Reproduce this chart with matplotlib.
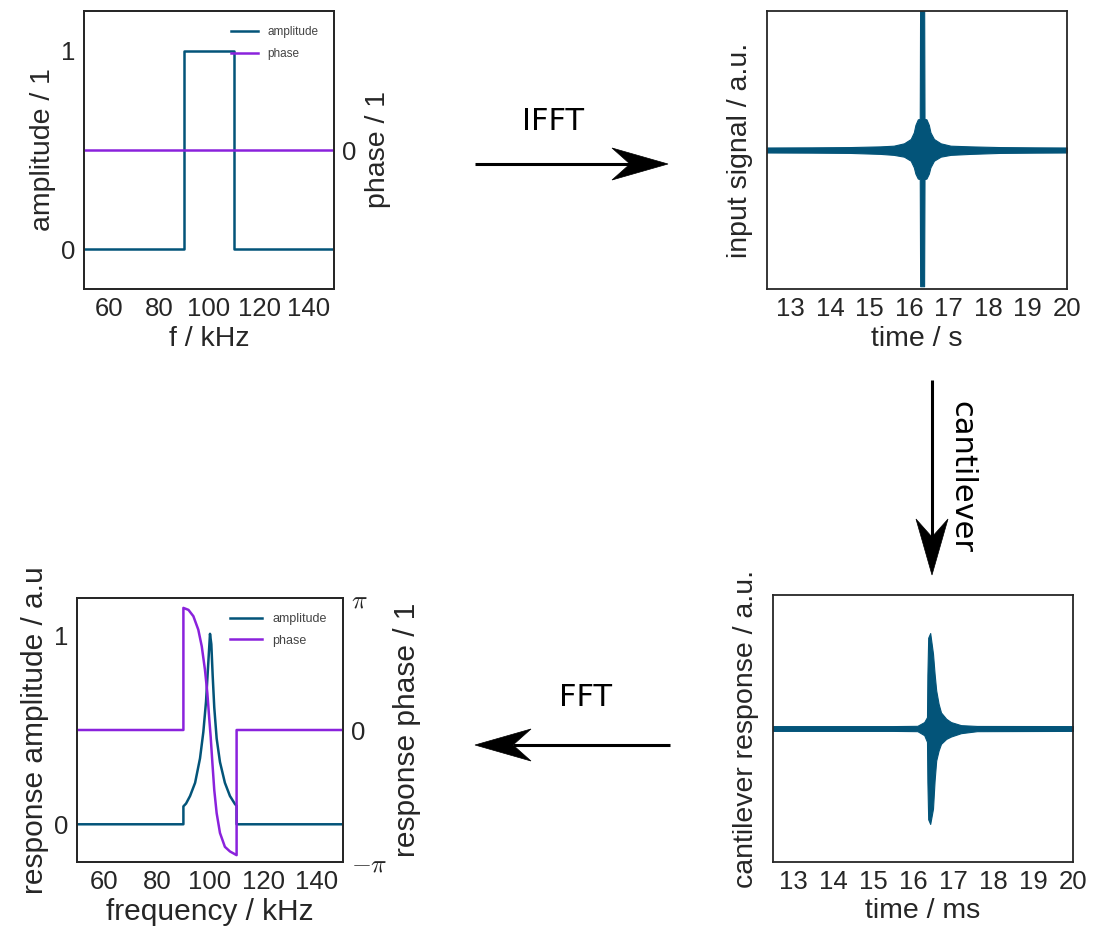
import matplotlib
matplotlib.use("Agg")
import matplotlib.pyplot as plt
from matplotlib import font_manager
from matplotlib.patches import Polygon
import numpy as np

plt.rcParams["font.family"] = ["Liberation Sans", "DejaVu Sans"]
plt.rcParams["mathtext.fontset"] = "cm"
plt.rcParams["text.color"] = "#262626"
plt.rcParams["axes.labelcolor"] = "#262626"
plt.rcParams["xtick.color"] = "#262626"
plt.rcParams["ytick.color"] = "#262626"

# tick labels in the reference look tall and narrow
try:
    font_manager.findfont("Liberation Sans Narrow", fallback_to_default=False)
    TICK_FAMILY, TICK_SIZE = "Liberation Sans Narrow", 20
except Exception:
    TICK_FAMILY, TICK_SIZE = "Liberation Sans", 18.5

BLUE = "#035479"
PURPLE = "#8a22dc"
EDGE = "#262626"

# --- top left: input spectrum ---
f_in = [50, 90, 90, 110, 110, 150]
amp_in = [0, 0, 1, 1, 0, 0]
f_in_phase = [50, 150]
phase_in = [0, 0]

# --- top right: input signal envelope (time in s) ---
t_in = [12.4, 13.5, 14.5, 15.27, 15.61, 15.87, 16.04, 16.12, 16.16, 16.22, 16.27, 16.28,
        16.38, 16.39, 16.44, 16.5, 16.54, 16.63, 16.8, 17.05, 17.56, 18.3, 19.2, 20.0]
up_in = [0.018, 0.019, 0.021, 0.026, 0.031, 0.048, 0.079, 0.127, 0.18, 0.22, 0.225, 1.15,
         1.15, 0.225, 0.22, 0.18, 0.127, 0.079, 0.048, 0.031, 0.026, 0.021, 0.019, 0.018]
lo_in = [-0.018, -0.019, -0.021, -0.028, -0.035, -0.048, -0.077, -0.125, -0.17, -0.205, -0.21, -0.98,
         -0.98, -0.21, -0.205, -0.17, -0.125, -0.077, -0.048, -0.035, -0.028, -0.021, -0.019, -0.018]

# --- bottom right: cantilever response envelope (time in ms) ---
t_resp = [12.5, 14.0, 15.5, 16.11, 16.28, 16.35, 16.36, 16.38, 16.43, 16.5, 16.54, 16.58,
          16.64, 16.7, 16.83, 16.95, 17.2, 17.6, 20.0]
up_resp = [0.018, 0.018, 0.018, 0.02, 0.048, 0.085, 0.4, 0.68, 0.715, 0.56, 0.41, 0.285,
           0.185, 0.12, 0.073, 0.048, 0.025, 0.019, 0.018]
lo_resp = [-0.018, -0.018, -0.018, -0.02, -0.05, -0.1, -0.4, -0.68, -0.715, -0.6, -0.39, -0.24,
           -0.165, -0.115, -0.078, -0.06, -0.035, -0.02, -0.018]

# --- bottom left: response spectrum ---
f_out = [50, 90, 90, 91, 92.5, 94.4, 96.25, 97.5, 98.5, 99.25, 100.0, 100.5, 101.0,
         101.6, 102.5, 103.75, 105.6, 107.5, 109.4, 110, 110, 150]
amp_out = [0, 0, 0.095, 0.11, 0.15, 0.22, 0.35, 0.49, 0.65, 0.83, 1.01, 0.955, 0.79,
           0.62, 0.455, 0.33, 0.22, 0.15, 0.107, 0.098, 0, 0]
f_out_phase = [50, 90, 90, 91.9, 93.75, 95.6, 96.9, 98.1, 99.0, 99.75, 100.25, 100.9,
               101.6, 102.5, 103.75, 105.6, 107.5, 110, 110, 150]
phase_out_pi = [0, 0, 0.925, 0.91, 0.862, 0.76, 0.634, 0.457, 0.28, 0.077, -0.05, -0.25,
                -0.454, -0.63, -0.78, -0.885, -0.92, -0.948, 0, 0]

W, H = 1097, 944
fig = plt.figure(figsize=(W / 100, H / 100), dpi=100)


def px_rect(l, t, r, b):
    return [l / W, 1 - b / H, (r - l) / W, (b - t) / H]


def style(ax):
    for s in ax.spines.values():
        s.set_color(EDGE)
        s.set_linewidth(1.3)
    ax.tick_params(length=0, pad=6)
    for lab in ax.get_xticklabels() + ax.get_yticklabels():
        lab.set_family(TICK_FAMILY)
        lab.set_fontsize(TICK_SIZE)


# top left
ax1 = fig.add_axes(px_rect(84, 11, 334, 289))
ax1.plot(f_in, amp_in, color=BLUE, lw=1.8, label="amplitude")
ax1.set_xlim(50, 150)
ax1.set_ylim(-0.2, 1.2)
ax1.set_xticks([60, 80, 100, 120, 140])
ax1.set_yticks([0, 1])
ax1.set_xlabel("f / kHz", fontsize=20.5, labelpad=3)
ax1.set_ylabel("amplitude / 1", fontsize=20.5, labelpad=4)
style(ax1)
ax1b = ax1.twinx()
ax1b.plot(f_in_phase, phase_in, color=PURPLE, lw=1.8, label="phase")
ax1b.set_ylim(-np.pi, np.pi)
ax1b.set_yticks([0])
ax1b.set_ylabel("phase / 1", fontsize=20.5, labelpad=6)
style(ax1b)
h1, l1 = ax1.get_legend_handles_labels()
h2, l2 = ax1b.get_legend_handles_labels()
ax1b.legend(h1 + h2, l1 + l2, loc="upper right", frameon=False, fontsize=8.5,
            bbox_to_anchor=(0.98, 0.985), handlelength=2.3, labelspacing=0.9,
            labelcolor="#444444")

# top right
ax2 = fig.add_axes(px_rect(767, 11, 1067, 289))
ax2.fill_between(t_in, lo_in, up_in, color=BLUE, lw=0.8, edgecolor=BLUE)
ax2.set_xlim(12.4, 20)
ax2.set_ylim(-1, 1)
ax2.set_xticks(range(13, 21))
ax2.set_yticks([])
ax2.set_xlabel("time / s", fontsize=20.5, labelpad=3)
ax2.set_ylabel("input signal / a.u.", fontsize=20.5, labelpad=10)
style(ax2)

# bottom right
ax3 = fig.add_axes(px_rect(773, 595, 1073, 862))
ax3.fill_between(t_resp, lo_resp, up_resp, color=BLUE, lw=0.8, edgecolor=BLUE)
ax3.set_xlim(12.5, 20)
ax3.set_ylim(-1, 1)
ax3.set_xticks(range(13, 21))
ax3.set_yticks([])
ax3.set_xlabel("time / ms", fontsize=20.5, labelpad=3)
ax3.set_ylabel("cantilever response / a.u.", fontsize=20.5, labelpad=10)
style(ax3)

# bottom left
ax4 = fig.add_axes(px_rect(77, 598, 343, 862))
ax4.plot(f_out, amp_out, color=BLUE, lw=1.8, label="amplitude")
ax4.set_xlim(50, 150)
ax4.set_ylim(-0.2, 1.2)
ax4.set_xticks([60, 80, 100, 120, 140])
ax4.set_yticks([0, 1])
ax4.set_xlabel("frequency / kHz", fontsize=21.5, labelpad=3)
ax4.set_ylabel("response amplitude / a.u", fontsize=21.5, labelpad=4)
style(ax4)
ax4b = ax4.twinx()
ax4b.plot(f_out_phase, np.array(phase_out_pi) * np.pi, color=PURPLE, lw=1.8, label="phase")
ax4b.set_ylim(-np.pi, np.pi)
ax4b.set_yticks([-np.pi, 0, np.pi])
ax4b.set_yticklabels([r"$-\pi$", "0", r"$\pi$"])
ax4b.set_ylabel("response phase / 1", fontsize=21.5, labelpad=4)
style(ax4b)
for lab in ax4b.get_yticklabels():
    lab.set_fontsize(18.5)
h1, l1 = ax4.get_legend_handles_labels()
h2, l2 = ax4b.get_legend_handles_labels()
ax4b.legend(h1 + h2, l1 + l2, loc="upper right", frameon=False, fontsize=9,
            bbox_to_anchor=(0.98, 0.985), handlelength=2.6, labelspacing=0.75,
            labelcolor="#444444")

# overlay for arrows and their labels, in pixel units
ov = fig.add_axes([0, 0, 1, 1], zorder=-1)
ov.set_xlim(0, W)
ov.set_ylim(H, 0)
ov.axis("off")


def arrow(x0, y0, x1, y1):
    v = np.array([x1 - x0, y1 - y0], float)
    u = v / np.hypot(*v)
    n = np.array([-u[1], u[0]])
    tip = np.array([x1, y1], float)
    back = tip - 56 * u
    notch = tip - 38 * u
    ov.plot([x0, notch[0]], [y0, notch[1]], color="black", lw=2.2, solid_capstyle="butt")
    ov.add_patch(Polygon([tip, back + 16 * n, notch, back - 16 * n], closed=True,
                         facecolor="black", edgecolor="black", lw=0.5))


arrow(475, 164, 668, 164)
arrow(932, 380, 932, 575)
arrow(670, 745, 475, 745)
ov.text(553, 122, "IFFT", family="DejaVu Sans", fontsize=22, ha="center", va="center", color="black")
ov.text(585, 697, "FFT", family="DejaVu Sans", fontsize=22, ha="center", va="center", color="black")
ov.text(962, 477, "cantilever", family="DejaVu Sans", fontsize=22, ha="center", va="center",
        rotation=270, color="black")

fig.savefig("out.png", dpi=100, facecolor="white")
